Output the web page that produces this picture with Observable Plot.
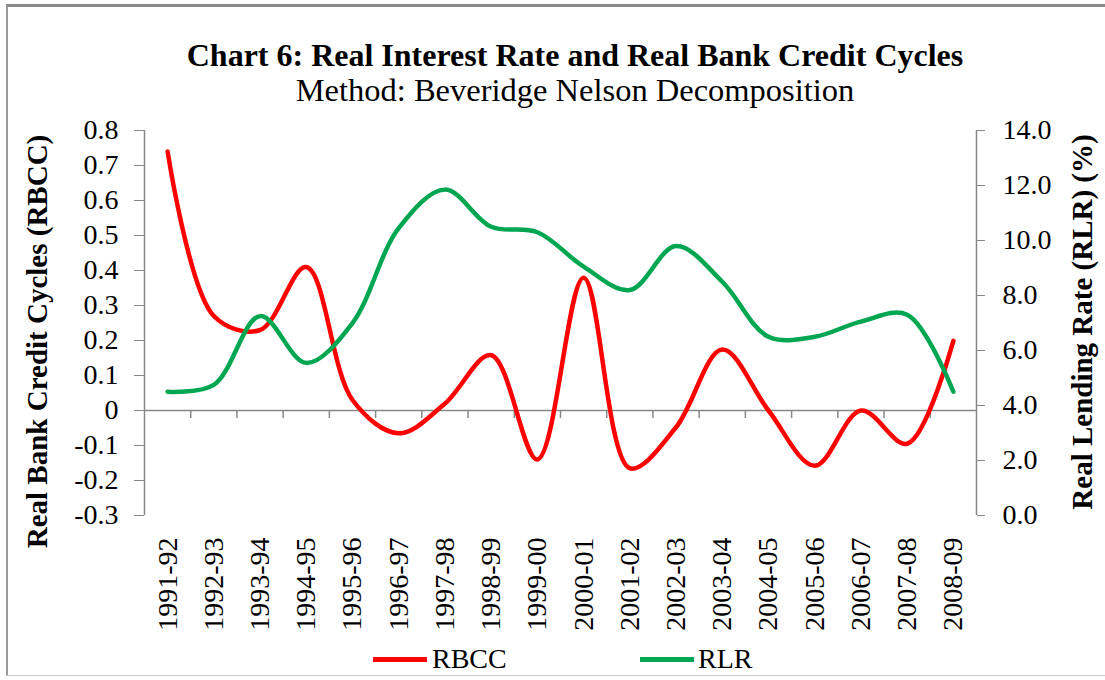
<!DOCTYPE html>
<html>
<head>
<meta charset="utf-8">
<script src="https://cdn.jsdelivr.net/npm/d3@7"></script>
<script src="https://cdn.jsdelivr.net/npm/@observablehq/plot@0.6"></script>
<style>
  html, body { margin: 0; padding: 0; background: #fff; }
  body { width: 1105px; height: 680px; position: relative; overflow: hidden; font-family: "Liberation Serif", "Times New Roman", serif; }
  #frame { position: absolute; left: 6px; top: 4px; width: 1120px; height: 672px; border-left: 2px solid #9a9a9a; border-top: 3px solid #8a8a8a; border-bottom: 1px solid #d0d0d0; box-sizing: border-box; }
  .title { position: absolute; left: 0; width: 1150px; text-align: center; line-height: 30px; white-space: nowrap; color: #000; }
  #t1 { top: 40px; font-size: 32px; font-weight: bold; }
  #t2 { top: 75px; font-size: 32.5px; }
  #chart { position: absolute; left: 0; top: 112px; }
  .lg-line { position: absolute; height: 5px; top: 657px; }
  .lg-text { position: absolute; top: 645px; font-size: 28px; line-height: 28px; color: #000; }
</style>
</head>
<body>
<div id="frame"></div>
<div class="title" id="t1">Chart 6: Real Interest Rate and Real Bank Credit Cycles</div>
<div class="title" id="t2">Method: Beveridge Nelson Decomposition</div>
<div id="chart"></div>
<div class="lg-line" style="left:373px;width:54px;background:#ff0000"></div>
<div class="lg-text" style="left:432px">RBCC</div>
<div class="lg-line" style="left:640px;width:54px;background:#00a651"></div>
<div class="lg-text" style="left:698px">RLR</div>
<script>
const categories = ["1991-92","1992-93","1993-94","1994-95","1995-96","1996-97","1997-98","1998-99","1999-00","2000-01","2001-02","2002-03","2003-04","2004-05","2005-06","2006-07","2007-08","2008-09"];
const rbcc = [0.74, 0.27, 0.23, 0.41, 0.03, -0.065, 0.02, 0.158, -0.14, 0.379, -0.165, -0.048, 0.174, 0.0, -0.158, 0.0, -0.095, 0.199];
const rlr = [4.5, 4.75, 7.25, 5.55, 7.0, 10.45, 11.85, 10.5, 10.3, 9.05, 8.2, 9.8, 8.5, 6.5, 6.5, 7.05, 7.3, 4.5];
const leftTicks = [-0.3, -0.2, -0.1, 0, 0.1, 0.2, 0.3, 0.4, 0.5, 0.6, 0.7, 0.8];
const rightTicks = [0, 2, 4, 6, 8, 10, 12, 14];
const leftTitle = "Real Bank Credit Cycles (RBCC)";
const rightTitle = "Real Lending Rate (RLR) (%)";
const seriesNames = ["RBCC", "RLR"];

const toLeft = d3.scaleLinear([0, 14], [-0.3, 0.8]);
const idx = d3.range(categories.length);
const boundaries = d3.range(1, categories.length).map(i => i - 0.5);
const rbccData = idx.map(i => ({i, v: rbcc[i]}));
const rlrData = idx.map(i => ({i, v: toLeft(rlr[i])}));
const axisGray = "#888888";

const chart = Plot.plot({
  width: 1105,
  height: 530,
  marginTop: 18,
  marginBottom: 127,
  marginLeft: 144,
  marginRight: 129,
  x: {domain: [-0.5, categories.length - 0.5]},
  y: {domain: [-0.3, 0.8]},
  style: {fontFamily: "'Liberation Serif', 'Times New Roman', serif", fontSize: "28px", color: "#000", background: "transparent", overflow: "visible"},
  marks: [
    Plot.ruleY([0], {stroke: axisGray, strokeWidth: 1.5}),
    Plot.ruleX(boundaries, {x: d => d, y1: 0, y2: -0.023, stroke: axisGray, strokeWidth: 1.5}),
    Plot.ruleX([-0.5], {stroke: axisGray, strokeWidth: 1.5}),
    Plot.ruleX([categories.length - 0.5], {stroke: axisGray, strokeWidth: 1.5}),
    Plot.axisY({anchor: "left", ticks: leftTicks, tickFormat: d => Math.abs(d) < 1e-9 ? "0" : d.toFixed(1), tickSize: 10, tickPadding: 16, stroke: axisGray, label: null}),
    Plot.axisY({anchor: "right", ticks: rightTicks.map(v => toLeft(v)), tickFormat: d => Math.abs(toLeft.invert(d)).toFixed(1), tickSize: 8, tickPadding: 18, stroke: axisGray, label: null}),
    Plot.axisX({ticks: idx, tickFormat: i => categories[i], tickRotate: -90, tickSize: 0, tickPadding: 22, label: null}),
    Plot.line(rbccData, {x: "i", y: "v", stroke: "#ff0000", strokeWidth: 4.5, curve: "catmull-rom"}),
    Plot.line(rlrData, {x: "i", y: "v", stroke: "#00a651", strokeWidth: 4.5, curve: "catmull-rom"}),
    Plot.text([leftTitle], {text: d => d, frameAnchor: "left", textAnchor: "middle", lineAnchor: "middle", rotate: -90, dx: -107, dy: 18.5, fontWeight: "bold", fontSize: 29}),
    Plot.text([rightTitle], {text: d => d, frameAnchor: "right", textAnchor: "middle", lineAnchor: "middle", rotate: -90, dx: 106, dy: -1, fontWeight: "bold", fontSize: 29})
  ]
});
document.getElementById("chart").appendChild(chart);
</script>
</body>
</html>
